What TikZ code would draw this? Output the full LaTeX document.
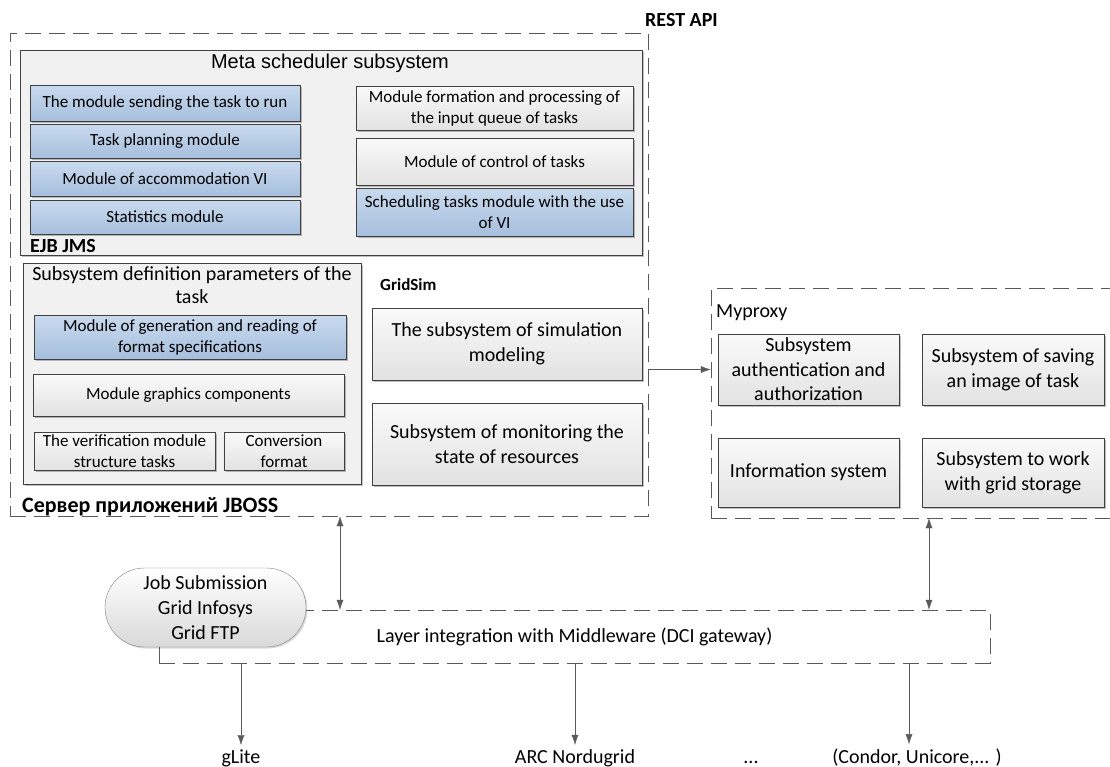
\documentclass[tikz,border=0pt]{standalone}
\usepackage{fontspec}
\setmainfont{Carlito}
\newfontfamily\arialfont{Liberation Sans}
\usepackage{tikz}
\usetikzlibrary{arrows, arrows.meta}
\usetikzlibrary{positioning, shadows, shapes.misc}

\definecolor{boxline}{HTML}{404040}
\definecolor{dashline}{HTML}{5A5A5A}
\definecolor{bluetop}{HTML}{C9DAEE}
\definecolor{bluebot}{HTML}{A6BFDD}
\definecolor{greytop}{HTML}{FAFAFA}
\definecolor{greybot}{HTML}{E2E2E2}
\definecolor{framefill}{HTML}{F1F1F1}

\tikzset{
  wh/.style 2 args={minimum width=#1, minimum height=#2},
  shade/.style={drop shadow={shadow xshift=2pt, shadow yshift=-2pt, fill=black, opacity=.25}},
  frame/.style={draw=boxline, fill=framefill, inner sep=0pt, shade},
  greybox/.style={draw=boxline, top color=greytop, bottom color=greybot, align=center,
    inner sep=0pt, shade, font=\fontsize{17}{21}\selectfont},
  bluebox/.style={greybox, top color=bluetop, bottom color=bluebot},
  bigbox/.style={greybox, font=\fontsize{20}{25}\selectfont},
  zone/.style={draw=dashline, dash pattern=on 16pt off 8pt, inner sep=0pt},
  tag/.style={inner sep=0pt, font=\fontsize{20}{24}\selectfont\bfseries},
  label/.style={inner sep=0pt, font=\fontsize{20}{24}\selectfont},
  tip/.style={draw=dashline, -{Latex[length=10pt,width=7pt]}},
  twotip/.style={draw=dashline, {Latex[length=10pt,width=7pt]}-{Latex[length=10pt,width=7pt]}}
}

\begin{document}
\begin{tikzpicture}[x=1pt, y=-1pt]
\useasboundingbox (0,0) rectangle (1110,766);

\node[zone, wh={638pt}{483pt}] (jboss) at (329,274.5) {};
\node[tag, anchor=west] (rest) at (645,20) {REST API};

\node[frame, wh={622pt}{205pt}] (meta) at (331,152.5) {};
\node[inner sep=0pt, font=\arialfont\fontsize{20}{24}\selectfont] (metatitle) at (330,63) {Meta scheduler subsystem};
\node[bluebox, wh={270pt}{36pt}] (send) at (165,103) {The module sending the task to run};
\node[bluebox, wh={270pt}{34pt}] (plan) at (165,141) {Task planning module};
\node[bluebox, wh={270pt}{35pt}] (accom) at (165,178.5) {Module of accommodation VI};
\node[bluebox, wh={270pt}{34pt}] (stat) at (165,217) {Statistics module};
\node[greybox, wh={277pt}{44pt}] (queue) at (494.5,108) {Module formation and processing of\\the input queue of tasks};
\node[greybox, wh={277pt}{47pt}] (control) at (494.5,161.5) {Module of control of tasks};
\node[bluebox, wh={277pt}{48pt}] (sched) at (494.5,212) {Scheduling tasks module with the use\\of VI};
\node[tag, anchor=west] (ejb) at (30,246) {EJB JMS};

\node[frame, wh={338pt}{221pt}] (param) at (192,373.5) {};
\node[label, align=center, font=\fontsize{20}{23}\selectfont] (paramtitle) at (192,285.5) {Subsystem definition parameters of the\\task};
\node[bluebox, wh={312pt}{44pt}] (gen) at (190,337) {Module of generation and reading of\\format specifications};
\node[greybox, wh={311pt}{42pt}] (graph) at (188.5,395) {Module graphics components};
\node[greybox, wh={181pt}{38pt}] (verif) at (124.5,451) {The verification module\\structure tasks};
\node[greybox, wh={120pt}{38pt}] (conv) at (284,451) {Conversion\\format};

\node[tag, anchor=west, font=\fontsize{17}{21}\selectfont\bfseries] (gridsim) at (380,285) {GridSim};
\node[bigbox, wh={270pt}{72pt}] (simul) at (507,344) {The subsystem of simulation\\modeling};
\node[bigbox, wh={270pt}{82pt}] (monit) at (507,444) {Subsystem of monitoring the\\state of resources};
\node[tag, anchor=west, font=\fontsize{22}{26}\selectfont\bfseries] (server) at (22,507) {Сервер приложений JBOSS};

\node[zone, wh={400pt}{230pt}] (proxy) at (911,403) {};
\node[label, anchor=west] (myproxy) at (716,313) {Myproxy};
\node[bigbox, wh={181pt}{71pt}, font=\fontsize{20}{24.5}\selectfont] (auth) at (808.5,369.5) {Subsystem\\authentication and\\authorization};
\node[bigbox, wh={182pt}{71pt}] (image) at (1013,369.5) {Subsystem of saving\\an image of task};
\node[bigbox, wh={181pt}{69pt}] (info) at (808.5,472.5) {Information system};
\node[bigbox, wh={182pt}{69pt}] (store) at (1013,472.5) {Subsystem  to work\\with grid storage};

\node[zone, wh={831pt}{53pt}, font=\fontsize{20}{24}\selectfont] (layer) at (574.5,636.5) {Layer integration with Middleware (DCI gateway)};
\node[rounded rectangle, draw=black!50, top color=white, bottom color=black!15, wh={201pt}{79pt},
  inner sep=0pt, align=center, font=\fontsize{20}{25}\selectfont,
  drop shadow={shadow xshift=1.5pt, shadow yshift=-1.5pt, fill=black, opacity=.15}] (grid) at (205.5,607.5) {Job Submission\\Grid Infosys\\Grid FTP};

\node[label, anchor=base] (glite) at (241,763) {gLite};
\node[label, anchor=base] (arc) at (575,763) {ARC Nordugrid};
\node[label, anchor=base] (dots) at (751,763) {...};
\node[label, anchor=base] (condor) at (917,763) {(Condor, Unicore,... )};

\coordinate (lx) at (340,0);
\coordinate (rx) at (929,0);
\draw[tip] (jboss.east |- auth) -- (proxy.west |- auth);
\draw[twotip] (jboss.south -| lx) -- (layer.north -| lx);
\draw[twotip] (proxy.south -| rx) -- (layer.north -| rx);
\draw[tip, shorten >=4pt] (layer.south -| glite.north) -- (glite.north);
\draw[tip, shorten >=4pt] (layer.south -| arc.north) -- (arc.north);
\draw[tip, shorten >=4pt] ([xshift=-8pt]condor.north |- layer.south) -- ([xshift=-8pt]condor.north);
\end{tikzpicture}
\end{document}
